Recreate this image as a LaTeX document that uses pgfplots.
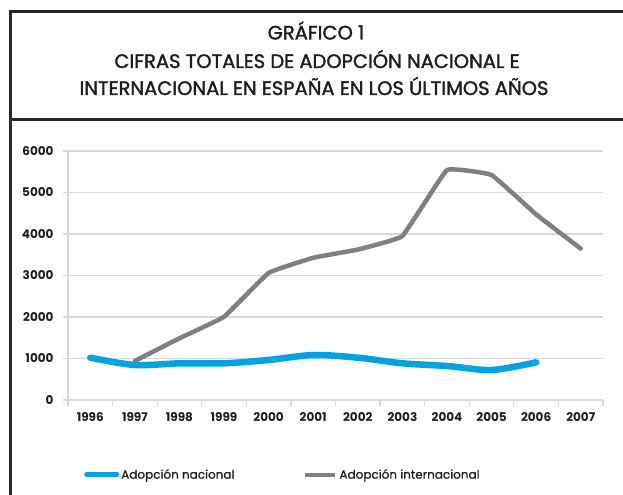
\documentclass[border=0pt]{standalone}
\usepackage{pgfplots}
\pgfplotsset{compat=1.18}
\usepackage{fontspec}
\setmainfont{Poppins}
\newfontfamily\titlefont{Poppins}[FakeBold=1.6]
\newfontfamily\legfont{Poppins}[FakeBold=0.8]
\definecolor{blueline}{RGB}{0,163,224}
\definecolor{grayline}{RGB}{128,128,128}
\definecolor{gridc}{RGB}{217,217,217}
\definecolor{framec}{RGB}{40,40,40}
\definecolor{txt}{RGB}{30,30,30}
\begin{document}
\begin{tikzpicture}[x=1bp,y=1bp]
\useasboundingbox (0,0) rectangle (623,-495);
\fill[white] (0,0) rectangle (623,-495);
\draw[framec, line width=3bp] (10,-497) -- (10,-12) -- (625,-12);
\draw[framec, line width=3bp] (10,-120) -- (625,-120);
\node[txt, anchor=base, font=\titlefont\fontsize{19.5bp}{22bp}\selectfont] at (316,-39.5) {GRÁFICO 1};
\node[txt, anchor=base, font=\titlefont\fontsize{19.5bp}{22bp}\selectfont] at (317,-68) {CIFRAS TOTALES DE ADOPCIÓN NACIONAL E};
\node[txt, anchor=base, font=\titlefont\fontsize{19.5bp}{22bp}\selectfont] at (314,-95) {INTERNACIONAL EN ESPAÑA EN LOS ÚLTIMOS AÑOS};
\begin{axis}[
  at={(68bp,-400bp)}, anchor=south west,
  scale only axis, width=535bp, height=249bp,
  xmin=-0.5, xmax=11.5, ymin=0, ymax=6000,
  axis lines=left,
  axis line style={gridc, line width=1.2bp, -},
  ytick={0,1000,...,6000},
  yticklabels={0,1000,2000,3000,4000,5000,6000},
  ymajorgrids,
  major grid style={gridc, line width=1.2bp},
  xtick={0,...,11},
  xticklabels={1996,1997,1998,1999,2000,2001,2002,2003,2004,2005,2006,2007},
  major x tick style={draw=none},
  minor xtick={-0.5,0.5,...,11.5},
  tick style={gridc, line width=1.2bp},
  major tick length=5bp, minor tick length=6bp,
  tick align=outside,
  ticklabel style={text=txt, font=\bfseries\fontsize{12bp}{14bp}\selectfont},
  xticklabel style={yshift=-4bp},
  yticklabel style={xshift=-6bp},
  legend style={at={(0.03,-0.30)}, anchor=west, draw=none, fill=none, inner sep=0pt,
    font=\legfont\fontsize{12bp}{14bp}\selectfont, text=txt,
    /tikz/every even column/.append style={column sep=67bp}},
  legend columns=2, legend cell align=left,
  legend image code/.code={\draw[#1] (0bp,0bp) -- (30bp,0bp);},
]
\addlegendimage{blueline, line width=5bp, line cap=round}
\addlegendentry{Adopción nacional}
\addlegendimage{grayline, line width=4bp}
\addlegendentry[xshift=14bp]{Adopción internacional}
\addplot[forget plot, grayline, line width=4.5bp, smooth, tension=0.15, line cap=round, line join=round]
  coordinates {(1,942)(2,1487)(3,2006)(4,3062)(5,3428)(6,3625)(7,3951)(8,5541)(9,5423)(10,4472)(11,3648)};
\addplot[forget plot, blueline, line width=6.5bp, smooth, tension=0.5, line cap=round, line join=round]
  coordinates {(0,1020)(1,843)(2,884)(3,884)(4,964)(5,1084)(6,1020)(7,884)(8,819)(9,723)(10,908)};
\end{axis}
\end{tikzpicture}
\end{document}
